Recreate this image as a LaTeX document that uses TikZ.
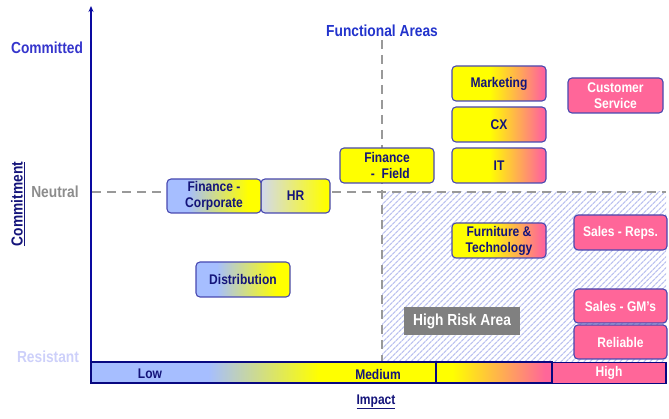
\documentclass[tikz,border=0pt]{standalone}
\usepackage{fontspec}
\setmainfont{Liberation Sans}[FakeStretch=0.86]
\usetikzlibrary{patterns.meta,arrows.meta}
\definecolor{bblue}{HTML}{A6BEFF}
\definecolor{hrgray}{HTML}{D2D9EE}
\definecolor{ylw}{HTML}{FFFF00}
\definecolor{pnk}{HTML}{FF6699}
\definecolor{bordr}{HTML}{4848B0}
\definecolor{navy}{HTML}{14147A}
\definecolor{axisblue}{HTML}{0A0AA0}
\definecolor{titleblue}{HTML}{2233CC}
\definecolor{commblue}{HTML}{3535CC}
\definecolor{neutgray}{HTML}{8C8C8C}
\definecolor{resist}{HTML}{CDD0FA}
\definecolor{hatch}{HTML}{BCC2F0}
\definecolor{dashgray}{HTML}{999999}
\definecolor{riskgray}{HTML}{808080}
\pgfdeclarehorizontalshading{bluyel}{100bp}{color(0bp)=(bblue); color(25bp)=(bblue); color(36bp)=(bblue); color(68bp)=(ylw); color(75bp)=(ylw); color(100bp)=(ylw)}
\pgfdeclarehorizontalshading{hryel}{100bp}{color(0bp)=(hrgray); color(25bp)=(hrgray); color(72bp)=(ylw); color(100bp)=(ylw)}
\pgfdeclarehorizontalshading{yelpnk}{100bp}{color(0bp)=(ylw); color(25bp)=(ylw); color(45bp)=(ylw); color(73bp)=(pnk); color(100bp)=(pnk)}
\pgfdeclarehorizontalshading{barlm}{100bp}{color(0bp)=(bblue); color(25bp)=(bblue); color(42bp)=(bblue); color(58bp)=(ylw); color(100bp)=(ylw)}
\pgfdeclarehorizontalshading{barmid}{100bp}{color(0bp)=(ylw); color(25bp)=(ylw); color(32bp)=(ylw); color(72bp)=(pnk); color(100bp)=(pnk)}
\tikzset{
  box/.style={draw=bordr, line width=1.1pt, rounded corners=4pt, text=navy,
    font=\bfseries\fontsize{14}{16}\selectfont, align=center, inner sep=0pt,
    minimum width=94pt, minimum height=35pt},
  pinkbox/.style={box, fill=pnk, text=white},
  barseg/.style={draw=axisblue!80!black, line width=1.3pt, inner sep=0pt,
    minimum height=21pt, font=\bfseries\fontsize{14}{16}\selectfont, text=navy},
  barlabel/.style={font=\bfseries\fontsize{14}{16}\selectfont, text=navy},
  axislabel/.style={font=\bfseries\fontsize{16}{18}\selectfont},
  dashline/.style={draw=dashgray, line width=2pt, dash pattern=on 9pt off 6pt},
  axisline/.style={draw=axisblue, line width=1.5pt, -{Stealth[length=6pt,width=5pt]}}
}
\begin{document}
\begin{tikzpicture}[x=1pt,y=-1pt]
\useasboundingbox (0,0) rectangle (669,419);
% hatched high-risk region
\fill[pattern={Lines[angle=45,distance=4pt,line width=1.3pt]}, pattern color=hatch] (382,192) rectangle (666,362);
% guide lines
\coordinate (hl) at (92,192);
\coordinate (hr) at (666,192);
\coordinate (vt) at (382,40);
\coordinate (vb) at (382,362);
\draw[dashline] (hl) -- (hr);
\draw[dashline] (vt) -- (vb);
% axis
\coordinate (ybot) at (91,384);
\coordinate (ytop) at (91,6);
\draw[axisline] (ybot) -- (ytop);
% bottom bar
\node[barseg, shading=barlm, minimum width=345pt] (seglm) at (263.5,372.5) {};
\node[barseg, shading=barmid, minimum width=116pt] (segmid) at (494,372.5) {};
\node[barseg, fill=pnk, text=white, minimum width=114pt] (seghigh) at (609,373) {High};
\node[barlabel] (low) at (150,374) {Low};
\node[barlabel] (med) at (378,374) {Medium};
% axis labels
\node[axislabel, text=titleblue] (fa) at (382,31) {Functional Areas};
\node[axislabel, text=commblue] (comm) at (47,48) {Committed};
\node[axislabel, text=neutgray] (neut) at (55,192) {Neutral};
\node[axislabel, text=resist] (res) at (48,357) {Resistant};
\node[axislabel, text=navy, rotate=90] (cmt) at (18,204) {\underline{Commitment}};
\node[barlabel] (imp) at (376,402) {\underline{Impact}};
% boxes
\node[box, shading=hryel, minimum width=69pt, minimum height=34pt] (hrb) at (295.5,196) {HR};
\node[box, shading=bluyel, minimum height=34pt] (fincorp) at (214,196) {Finance -\\Corporate};
\node[box, fill=ylw] (finfield) at (387,165.5) {Finance\\\ \ -\ \ Field};
\node[box, shading=yelpnk] (mkt) at (499,83.5) {Marketing};
\node[box, shading=yelpnk] (cx) at (499,124.5) {CX};
\node[box, shading=yelpnk] (it) at (499,165.5) {IT};
\node[pinkbox, minimum width=95pt] (cs) at (615.5,95.5) {Customer\\Service};
\node[box, shading=yelpnk] (furn) at (499,240.5) {Furniture \&\\Technology};
\node[pinkbox, minimum width=93pt] (reps) at (620.5,232.5) {Sales - Reps.};
\node[pinkbox, minimum width=93pt, minimum height=34pt] (gms) at (620.5,306) {Sales - GM’s};
\node[pinkbox, minimum width=93pt, minimum height=34pt] (rel) at (620.5,342) {Reliable};
\node[box, shading=bluyel] (dist) at (243,279.5) {Distribution};
\node[fill=riskgray, text=white, font=\bfseries\fontsize{16}{18}\selectfont, minimum width=116pt, minimum height=28pt, inner sep=0pt] (risk) at (462,321) {High Risk Area};
\end{tikzpicture}
\end{document}
